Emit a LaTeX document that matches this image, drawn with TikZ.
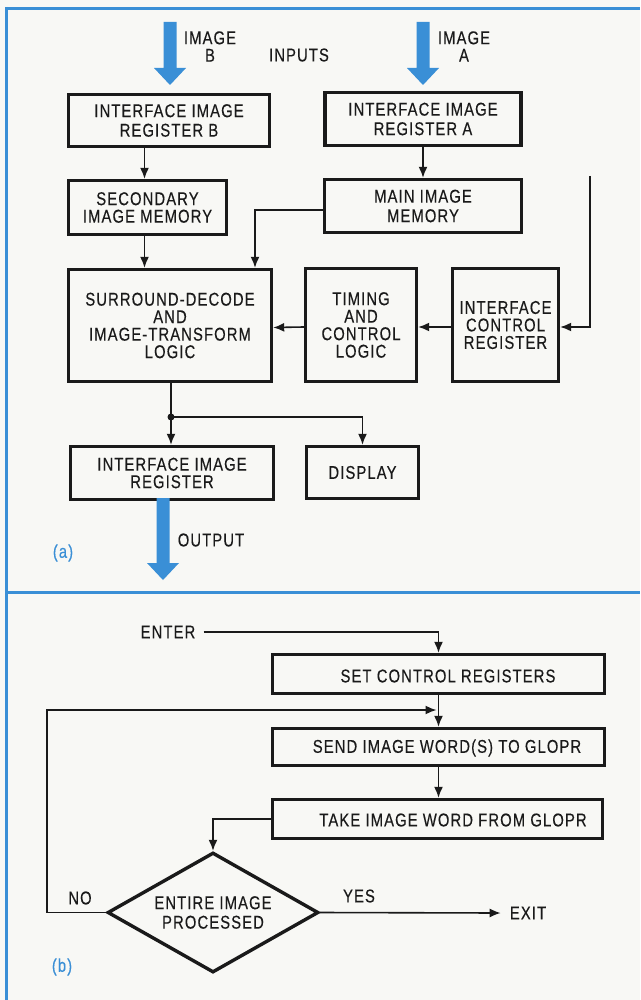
\documentclass[tikz,border=0pt]{standalone}
\usepackage{fontspec}
\setmainfont[FakeStretch=0.8,LetterSpace=6,FakeBold=0.3]{Liberation Sans}
\usetikzlibrary{arrows.meta,shapes.geometric,calc}
\definecolor{fblue}{HTML}{3A8FD6}
\definecolor{paper}{HTML}{F8F8F5}
\definecolor{ink}{HTML}{1A1A1A}
\newcommand\dgfont{\fontsize{18.5}{17.5}\selectfont}
\newcommand\dgfontw{\fontsize{18.5}{19.5}\selectfont}
\newcommand\barrow[5]{% name, x, ytop, yhead, ytip
  \coordinate (#1) at (#2,#5);
  \fill[fblue] (#2-6.5,#3) -- (#2+6.5,#3) -- (#2+6.5,#4) -- (#2+16,#4) -- (#1) -- (#2-16,#4) -- (#2-6.5,#4) -- cycle;}
\begin{document}
\begin{tikzpicture}[x=1pt,y=-1pt,
  box/.style={draw=ink,line width=3.4pt,inner sep=0pt,align=center,font=\dgfont,text=ink},
  wbox/.style={box,font=\dgfontw},
  lbl/.style={inner sep=0pt,align=center,font=\dgfont,text=ink},
  tag/.style={inner sep=0pt,font=\dgfont,text=fblue},
  conn/.style={draw=ink,line width=1.6pt,-{Latex[length=11pt,width=9pt]}},
  wire/.style={draw=ink,line width=1.6pt},
  frame/.style={draw=fblue,line width=3pt}]
\useasboundingbox (0,0) rectangle (640,1000);
\fill[paper] (0,0) rectangle (640,1000);
% frame
\draw[frame] (6.5,7) -- (6.5,1000);
\draw[frame] (5,8.5) -- (640,8.5);
\draw[frame] (6.5,592) -- (640,592);

% ---------- (a) ----------
\barrow{inB}{170}{22}{68}{85}
\barrow{inA}{423}{22}{68}{85}
\node[lbl] (imB) at (210,46.5) {IMAGE\\B};
\node[lbl] (inputs) at (299,55) {INPUTS};
\node[lbl] (imA) at (464,46.5) {IMAGE\\A};

\node[wbox,minimum width=201,minimum height=52] (regB) at (169,120.5) {INTERFACE IMAGE\\REGISTER B};
\node[wbox,minimum width=196,minimum height=53] (regA) at (423,119) {INTERFACE IMAGE\\REGISTER A};
\node[box,minimum width=158,minimum height=54] (sec) at (147.5,207.5) {SECONDARY\\IMAGE MEMORY};
\node[wbox,minimum width=197,minimum height=53] (main) at (423,206) {MAIN IMAGE\\MEMORY};
\node[box,minimum width=203,minimum height=112] (surr) at (170,325.5) {SURROUND-DECODE\\AND\\IMAGE-TRANSFORM\\LOGIC};
\node[box,minimum width=111,minimum height=113] (timing) at (361,325) {TIMING\\AND\\CONTROL\\LOGIC};
\node[box,minimum width=106,minimum height=113] (icr) at (505.5,325) {INTERFACE\\CONTROL\\REGISTER};
\node[box,minimum width=203,minimum height=53] (outreg) at (172,473) {INTERFACE IMAGE\\REGISTER};
\node[box,minimum width=112,minimum height=52] (disp) at (362.5,472.5) {DISPLAY};

\draw[conn] ([xshift=-3pt]sec.north |- regB.south) -- ([xshift=-3pt]sec.north);
\draw[conn] (main.north |- regA.south) -- (main.north);
\draw[conn] ([yshift=-4pt]main.west) -| ($(surr.north)+(85,0)$);
\draw[conn] ([xshift=-3pt]sec.south) -- ([xshift=-3pt]sec.south |- surr.north);
\coordinate (feedtop) at (590,176);
\draw[conn] (feedtop) |- ([yshift=-2pt]icr.east);
\draw[conn] ([yshift=-2pt]icr.west) -- ([yshift=-2pt]timing.east);
\draw[conn] ([yshift=-2pt]timing.west) -- ([yshift=-2pt]surr.east);
\coordinate (split) at (171,417);
\draw[wire] (split |- surr.south) -- (split);
\fill[ink] (split) circle (3.5);
\draw[conn] (split) -- (split |- outreg.north);
\draw[conn] (split) -| (disp.north);

\barrow{outarr}{163}{498}{563}{580}
\node[lbl] (output) at (211,540) {OUTPUT};
\node[tag] (taga) at (63,553) {(a)};

% ---------- (b) ----------
\node[lbl] (enter) at (168,632) {ENTER};
\node[box,minimum width=332,minimum height=39] (set) at (438.5,674) {};
\node[lbl] (setl) at (448,676) {SET CONTROL REGISTERS};
\node[box,minimum width=332,minimum height=37] (send) at (438.5,747) {};
\node[lbl] (sendl) at (447,748) {SEND IMAGE WORD(S) TO GLOPR};
\node[box,minimum width=330,minimum height=39] (take) at (437.5,819) {};
\node[lbl] (takel) at (453,820) {TAKE IMAGE WORD FROM GLOPR};
\node[draw=ink,line width=3.4pt,diamond,aspect=1.74,minimum width=211,minimum height=120,inner sep=0pt,align=center,font=\dgfontw,text=ink] (dec) at (213,912.5) {ENTIRE IMAGE\\PROCESSED};
\node[lbl] (no) at (80,898) {NO};
\node[lbl] (yes) at (359,896) {YES};
\node[lbl] (exit) at (528,913) {EXIT};
\node[tag] (tagb) at (62,967) {(b)};

\draw[conn] ([xshift=8pt]enter.east) -| (set.north);
\draw[conn] (set.south) -- (send.north);
\draw[conn] (send.south) -- (send.south |- take.north);
\draw[conn] (take.west) -| (dec.north);
\coordinate (fbx) at (47,912);
\coordinate (join) at (438.5,710);
\draw[conn] (dec.west) -- (dec.west -| fbx) |- ([xshift=-2pt]join);
\draw[conn] (dec.east) -- ([xshift=-9pt]exit.west);
\end{tikzpicture}
\end{document}
